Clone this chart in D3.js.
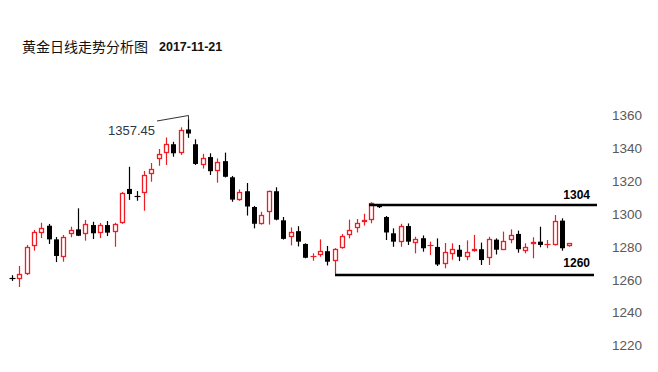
<!DOCTYPE html>
<html><head><meta charset="utf-8">
<script src="https://cdn.jsdelivr.net/npm/d3@7/dist/d3.min.js"></script>
<style>
html,body{margin:0;padding:0;background:#fff;}
svg{display:block;}
</style></head>
<body>
<svg id="chart" width="658" height="372"></svg>
<script>
// ---- data ----
const titleText = "黄金日线走势分析图";
const dateText = "2017-11-21";
const days = d3.range(1, 78); // 77 trading days
const opens  = [1260.8,1260.2,1263.6,1280.3,1288.6,1292.6,1284.3,1273.4,1287.4,1290.4,1287.4,1293.0,1288.0,1293.0,1288.4,1294.1,1315.0,1310.6,1312.3,1324.5,1332.8,1336.7,1342.2,1336.7,1351.2,1342.2,1329.9,1334.4,1326.1,1331.9,1322.1,1308.6,1313.6,1304.0,1293.8,1301.1,1313.6,1295.9,1285.7,1289.3,1281.5,1273.9,1274.8,1277.1,1271.0,1279.2,1287.0,1291.3,1294.6,1296.3,1305.0,1297.9,1288.0,1282.9,1292.4,1281.9,1285.0,1280.4,1279.7,1269.3,1275.8,1278.0,1273.7,1276.8,1278.3,1272.8,1284.1,1278.4,1283.9,1287.6,1277.4,1281.5,1282.9,1281.4,1280.9,1295.7,1279.8];
const closes = [1260.7,1263.2,1279.8,1288.8,1291.4,1284.3,1274.2,1285.6,1290.0,1286.5,1293.5,1288.0,1293.0,1288.4,1293.5,1312.3,1311.9,1310.5,1323.3,1327.3,1336.1,1342.2,1336.7,1350.9,1348.7,1330.2,1334.0,1325.8,1331.6,1322.4,1308.5,1313.3,1304.3,1293.8,1299.1,1313.7,1296.3,1284.6,1289.0,1282.9,1273.1,1274.1,1277.1,1270.7,1278.4,1286.3,1290.0,1294.3,1295.9,1306.4,1303.9,1288.5,1282.9,1292.4,1282.9,1284.6,1278.9,1280.7,1269.0,1276.5,1278.6,1273.7,1276.6,1278.3,1271.7,1284.3,1278.0,1283.6,1287.0,1278.3,1279.8,1282.9,1280.9,1281.6,1295.7,1278.9,1281.8];
const highs  = [1262.5,1268.1,1280.9,1290.0,1294.4,1293.7,1285.7,1287.0,1292.0,1303.2,1296.1,1295.0,1294.3,1295.5,1294.4,1313.1,1328.5,1313.7,1325.9,1330.8,1339.3,1346.3,1343.7,1352.5,1357.45,1345.2,1336.4,1336.7,1333.6,1337.1,1322.9,1314.7,1318.6,1304.6,1301.1,1314.0,1316.0,1297.9,1291.6,1292.3,1281.9,1275.8,1284.3,1280.3,1279.0,1287.6,1296.3,1296.7,1299.9,1306.9,1305.8,1298.5,1291.0,1293.8,1294.0,1285.9,1286.7,1282.9,1284.9,1282.1,1281.9,1280.9,1283.7,1287.0,1282.3,1285.9,1284.9,1289.0,1290.4,1289.6,1281.9,1285.6,1292.0,1283.9,1299.1,1297.1,1281.8];
const lows   = [1259.0,1255.3,1262.6,1277.4,1285.1,1281.5,1270.5,1270.7,1285.6,1286.3,1283.5,1284.5,1285.1,1286.3,1279.8,1293.7,1308.3,1307.8,1301.7,1319.4,1329.1,1329.6,1334.6,1335.7,1346.1,1329.6,1327.4,1323.5,1318.8,1322.0,1307.2,1307.8,1298.8,1291.0,1293.3,1293.3,1295.9,1284.2,1280.6,1280.0,1272.8,1271.3,1273.7,1268.4,1263.0,1278.6,1284.9,1288.5,1292.7,1294.1,1303.4,1283.9,1279.8,1279.8,1280.9,1275.8,1276.8,1274.8,1268.1,1266.7,1271.9,1271.1,1271.6,1276.8,1268.7,1268.7,1275.1,1277.8,1281.9,1276.2,1275.8,1272.8,1279.5,1278.9,1280.6,1277.4,1279.8];
const yTicks = [1220,1240,1260,1280,1300,1320,1340,1360];
const peakLabel = "1357.45";
const peakIndex = 24;            // candle carrying the high
const resistance = {level: 1305.2, from: 49, label: "1304"};
const support    = {level: 1262.6, from: 44, label: "1260"};

// ---- drawing ----
const svg = d3.select("#chart");
const W = 658, H = 372;
svg.append("rect").attr("width", W).attr("height", H).attr("fill", "#fff");

const x = d3.scaleBand().domain(d3.range(days.length)).range([8.33, 573]).padding(0);
const y = d3.scaleLinear().domain([1220, 1360]).range([345, 115]);
const cx = i => Math.round(x(i) + x.bandwidth() / 2);

const RED = "#f01c24", BLACK = "#000";

// title
svg.append("text").attr("x", 22).attr("y", 46).attr("dominant-baseline", "central")
  .attr("font-family", "'Noto Sans CJK SC', sans-serif").attr("font-size", 14)
  .attr("fill", "#111").text(titleText);
svg.append("text").attr("x", 159).attr("y", 46.5).attr("dominant-baseline", "central")
  .attr("font-family", "'Liberation Sans', Arial, sans-serif").attr("font-size", 12.5)
  .attr("font-weight", "bold").attr("fill", "#111").text(dateText);

// y axis (labels only)
const yAxis = d3.axisRight(y).tickValues(yTicks).tickSize(0).tickPadding(0).tickFormat(d3.format("d"));
const ax = svg.append("g").attr("transform", "translate(612,0)").call(yAxis);
ax.select(".domain").remove();
ax.selectAll("text").attr("font-family", "'Liberation Sans', Arial, sans-serif")
  .attr("font-size", 13.5).attr("fill", "#595959").attr("dy", "0.35em");

// candles
const data = days.map((d, i) => ({i, o: opens[i], c: closes[i], h: highs[i], l: lows[i]}));
const g = svg.append("g");
const candle = g.selectAll("g.c").data(data).enter().append("g").attr("class", "c");
candle.append("line")
  .attr("x1", d => cx(d.i) + 0.5).attr("x2", d => cx(d.i) + 0.5)
  .attr("y1", d => y(d.h)).attr("y2", d => y(d.l))
  .attr("stroke", d => d.c >= d.o ? RED : BLACK).attr("stroke-width", 1.2);
candle.each(function(d) {
  const sel = d3.select(this);
  const top = y(Math.max(d.o, d.c)), bot = y(Math.min(d.o, d.c));
  const up = d.c >= d.o;
  if (bot - top < 1.5) {
    sel.append("line").attr("x1", cx(d.i) - 2.5).attr("x2", cx(d.i) + 3.5)
      .attr("y1", Math.round(top) + 0.5).attr("y2", Math.round(top) + 0.5)
      .attr("stroke", up ? RED : BLACK).attr("stroke-width", 1.2);
  } else if (up) {
    sel.append("rect").attr("x", cx(d.i) - 1.5).attr("width", 4)
      .attr("y", Math.round(top) + 0.5).attr("height", Math.max(1, Math.round(bot - top) - 1))
      .attr("fill", "#fff").attr("stroke", RED).attr("stroke-width", 1.3);
  } else {
    sel.append("rect").attr("x", cx(d.i) - 2).attr("width", 5)
      .attr("y", top).attr("height", bot - top).attr("fill", BLACK);
  }
});

// resistance / support lines
function level(obj, xStart, xEnd, labelDy) {
  const yy = y(obj.level);
  svg.append("line").attr("x1", xStart).attr("x2", xEnd).attr("y1", yy).attr("y2", yy)
    .attr("stroke", "#000").attr("stroke-width", 2.5);
  svg.append("text").attr("x", 590).attr("y", yy + labelDy).attr("text-anchor", "end")
    .attr("dominant-baseline", "central")
    .attr("font-family", "'Liberation Sans', Arial, sans-serif").attr("font-size", 12)
    .attr("font-weight", "bold").attr("fill", "#000").text(obj.label);
}
level(resistance, cx(resistance.from) - 2, 597, -10);
level(support, cx(support.from), 594, -12);

// peak annotation
const px = cx(peakIndex) + 0.5;
svg.append("path")
  .attr("d", `M157,121 L${px},${y(1360) + 0.5} L${px},${y(highs[peakIndex])}`)
  .attr("fill", "none").attr("stroke", "#333").attr("stroke-width", 1);
svg.append("text").attr("x", 108).attr("y", 130).attr("dominant-baseline", "central")
  .attr("font-family", "'Liberation Sans', Arial, sans-serif").attr("font-size", 13)
  .attr("fill", "#2e3744").text(peakLabel);
</script>
</body></html>
